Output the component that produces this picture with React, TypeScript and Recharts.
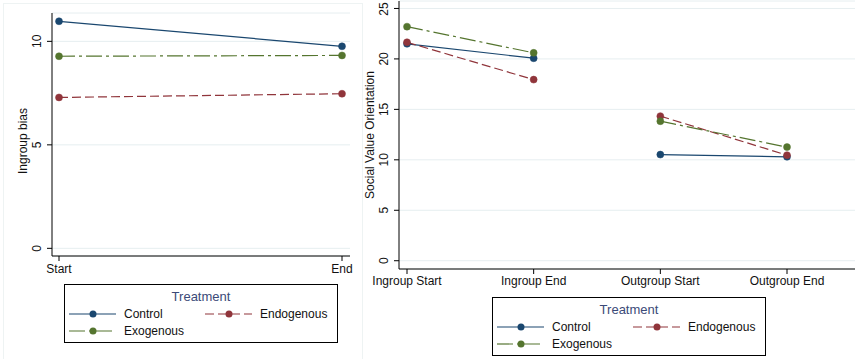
import React from "react";
import { LineChart, Line, XAxis, YAxis, CartesianGrid, Label } from "recharts";

const LEFT_CATEGORIES = ["Start", "End"];
const LEFT_CONTROL = [10.97, 9.76];
const LEFT_ENDOGENOUS = [7.29, 7.47];
const LEFT_EXOGENOUS = [9.28, 9.32];
const LEFT_TICKS = [0, 5, 10];

const RIGHT_CATEGORIES = ["Ingroup Start", "Ingroup End", "Outgroup Start", "Outgroup End"];
const RIGHT_CONTROL = [21.5, 20.07, 10.52, 10.3];
const RIGHT_ENDOGENOUS = [21.65, 17.95, 14.33, 10.46];
const RIGHT_EXOGENOUS = [23.2, 20.6, 13.83, 11.26];
const RIGHT_TICKS = [0, 5, 10, 15, 20, 25];
// lines are not joined between these two categories
const RIGHT_BREAK_AFTER = 1;

const SERIES = [
  { key: "control", name: "Control", color: "#1a476f", dash: undefined as string | undefined },
  { key: "endogenous", name: "Endogenous", color: "#90353b", dash: "9 4" },
  { key: "exogenous", name: "Exogenous", color: "#55752f", dash: "16 4 3 4" },
];

const FONT = "'Liberation Sans', Arial, Helvetica, sans-serif";
const GRID = "#e6eef0";

const leftData = LEFT_CATEGORIES.map((_, i) => ({
  x: i,
  control: LEFT_CONTROL[i],
  endogenous: LEFT_ENDOGENOUS[i],
  exogenous: LEFT_EXOGENOUS[i],
}));

const rightData: Record<string, number | undefined>[] = [];
RIGHT_CATEGORIES.forEach((_, i) => {
  rightData.push({
    x: i,
    control: RIGHT_CONTROL[i],
    endogenous: RIGHT_ENDOGENOUS[i],
    exogenous: RIGHT_EXOGENOUS[i],
  });
  if (i === RIGHT_BREAK_AFTER) rightData.push({ x: i + 0.5 });
});

function RotatedTick(props: any) {
  const { x, y, payload } = props;
  const bx = x - 4;
  return (
    <text
      x={bx}
      y={y}
      transform={`rotate(-90 ${bx} ${y})`}
      textAnchor="middle"
      fill="#111"
      fontSize={12}
      fontFamily={FONT}
    >
      {payload.value}
    </text>
  );
}

function axisTitle(text: string, cx: number, cy: number) {
  return () => (
    <text
      x={cx}
      y={cy}
      transform={`rotate(-90 ${cx} ${cy})`}
      textAnchor="middle"
      dominantBaseline="central"
      fill="#111"
      fontSize={12}
      fontFamily={FONT}
    >
      {text}
    </text>
  );
}

function LegendBox({ left, top }: { left: number; top: number }) {
  const w = 274;
  const h = 59;
  const cells = [
    { s: SERIES[0], col: 0, row: 0 },
    { s: SERIES[1], col: 1, row: 0 },
    { s: SERIES[2], col: 0, row: 1 },
  ];
  return (
    <svg
      width={w}
      height={h}
      style={{ position: "absolute", left, top, overflow: "visible" }}
    >
      <rect x={0.5} y={0.5} width={w - 1} height={h - 1} fill="#fff" stroke="#000" />
      <text
        x={w / 2}
        y={12}
        textAnchor="middle"
        dominantBaseline="central"
        fill="#3b4a78"
        fontSize={13}
        fontFamily={FONT}
      >
        Treatment
      </text>
      {cells.map(({ s, col, row }) => {
        const x0 = col === 0 ? 5 : 141;
        const y = row === 0 ? 30 : 47;
        return (
          <g key={s.key}>
            <line
              x1={x0}
              x2={x0 + 47}
              y1={y}
              y2={y}
              stroke={s.color}
              strokeWidth={1.2}
              strokeDasharray={s.dash}
            />
            <circle cx={x0 + 24} cy={y} r={3.5} fill={s.color} />
            <text
              x={x0 + 55}
              y={y}
              dominantBaseline="central"
              fill="#111"
              fontSize={12}
              fontFamily={FONT}
            >
              {s.name}
            </text>
          </g>
        );
      })}
    </svg>
  );
}

function renderLines() {
  return SERIES.map((s) => (
    <Line
      key={s.key}
      type="linear"
      dataKey={s.key}
      name={s.name}
      stroke={s.color}
      strokeWidth={1.2}
      strokeDasharray={s.dash}
      dot={{ r: 3.5, fill: s.color, stroke: s.color, strokeWidth: 0.5, strokeDasharray: "" }}
      activeDot={false}
      isAnimationActive={false}
    />
  ));
}

export default function App() {
  return (
    <div
      style={{
        position: "absolute",
        left: 0,
        top: 0,
        width: 855,
        height: 359,
        background: "#fff",
        overflow: "hidden",
      }}
    >
      <div
        style={{
          position: "absolute",
          left: 3,
          top: 3,
          width: 358,
          height: 370,
          border: "1px solid #eef3f3",
        }}
      />
      <div style={{ position: "absolute", left: 0, top: 0 }}>
        <LineChart
          width={360}
          height={359}
          data={leftData}
          margin={{ top: 13, right: 10, bottom: 73, left: 0 }}
        >
          <CartesianGrid vertical={false} stroke={GRID} strokeWidth={1} />
          <XAxis
            dataKey="x"
            type="number"
            domain={[0, LEFT_CATEGORIES.length - 1]}
            ticks={LEFT_CATEGORIES.map((_, i) => i)}
            tickFormatter={(v: number) => LEFT_CATEGORIES[v]}
            padding={{ left: 7, right: 8 }}
            height={30}
            tickSize={5}
            tickMargin={3}
            stroke="#000"
            tick={{ fill: "#111", fontSize: 12, fontFamily: FONT }}
          />
          <YAxis
            type="number"
            domain={[-0.37, 11.37]}
            ticks={LEFT_TICKS}
            allowDataOverflow
            width={52}
            tickSize={5}
            tickMargin={2}
            stroke="#000"
            tick={<RotatedTick />}
          >
            <Label content={axisTitle("Ingroup bias", 23, 141)} />
          </YAxis>
          {renderLines()}
        </LineChart>
      </div>
      <div style={{ position: "absolute", left: 355, top: 0 }}>
        <LineChart
          width={500}
          height={359}
          data={rightData}
          margin={{ top: 1, right: 0, bottom: 60, left: 0 }}
        >
          <CartesianGrid vertical={false} stroke={GRID} strokeWidth={1} />
          <XAxis
            dataKey="x"
            type="number"
            domain={[0, RIGHT_CATEGORIES.length - 1]}
            ticks={RIGHT_CATEGORIES.map((_, i) => i)}
            tickFormatter={(v: number) => RIGHT_CATEGORIES[v]}
            padding={{ left: 8, right: 68 }}
            height={30}
            tickSize={5}
            tickMargin={2}
            stroke="#000"
            tick={{ fill: "#111", fontSize: 12, fontFamily: FONT }}
          />
          <YAxis
            type="number"
            domain={[-0.82, 25.74]}
            ticks={RIGHT_TICKS}
            allowDataOverflow
            width={44}
            tickSize={5}
            tickMargin={2}
            stroke="#000"
            tick={<RotatedTick />}
          >
            <Label content={axisTitle("Social Value Orientation", 15, 135)} />
          </YAxis>
          {renderLines()}
        </LineChart>
      </div>
      <LegendBox left={64} top={284} />
      <LegendBox left={492} top={297} />
    </div>
  );
}
